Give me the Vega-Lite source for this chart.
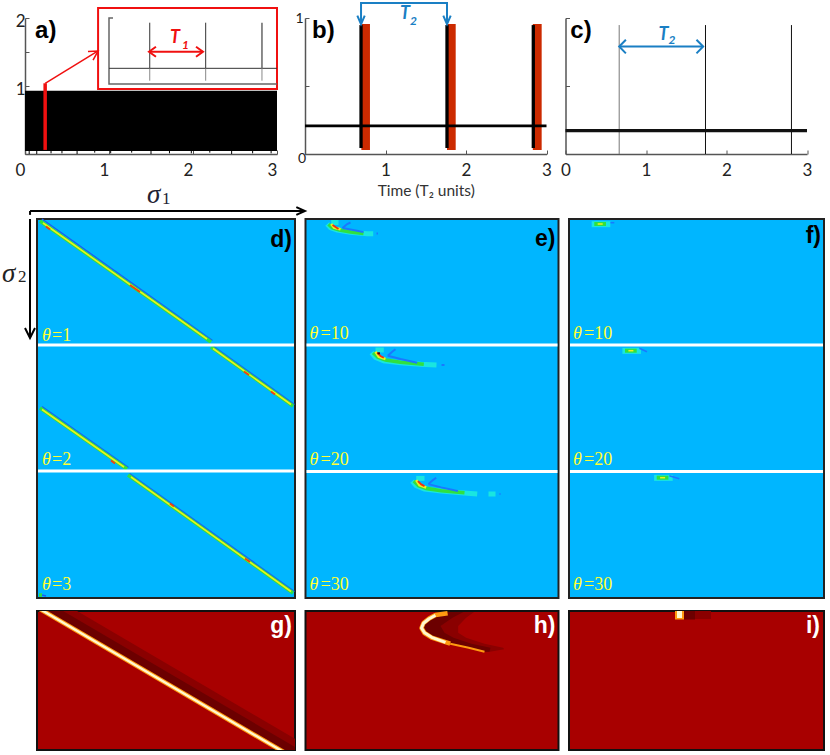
{
"$schema":"https://vega.github.io/schema/vega-lite/v6.json",
"background":"white",
"padding":{"left":2,"top":-1,"right":0,"bottom":0},
"config":{"view":{"stroke":null},"axis":{"grid":false,"labelFont":"Lato","labelFontSize":17,"labelColor":"#222","domainColor":"#555","tickColor":"#555","domainWidth":1.5,"tickWidth":1,"tickSize":-4,"title":null,"labelOverlap":false,"labelFlush":false}},
"spacing":-17,
"resolve":{"scale":{"color":"independent","strokeWidth":"independent"}},
"vconcat":[
{"bounds":"flush","spacing":28,"resolve":{"scale":{"color":"independent","strokeWidth":"independent"}},"hconcat":[
 {"width":252,"height":136,
  "encoding":{"x":{"field":"x","type":"quantitative","scale":{"domain":[0,3],"nice":false},"axis":{"values":[0,1,2,3],"format":"d","labelOffset":-5,"labelPadding":12}},
              "y":{"field":"y","type":"quantitative","scale":{"domain":[0,2],"nice":false},"axis":{"values":[0,0.5,1,1.5,2],"labelExpr":"datum.value>0 && datum.value%1==0 ? format(datum.value,'d') : ''","labelPadding":4,"labelOffset":3}}},
  "layer":[
   {"data":{"values":[{"x":0,"x2":3,"y":0.044,"y2":0.93}]},"mark":{"type":"rect","color":"#000"},"encoding":{"x2":{"field":"x2"},"y2":{"field":"y2"}}},
   {"data":{"values":[{"x":0.05,"y":0,"y2":0.05},{"x":0.14,"y":0,"y2":0.05},{"x":0.31,"y":0.01,"y2":0.05},{"x":0.44,"y":0.01,"y2":0.05},{"x":0.62,"y":0,"y2":0.05},{"x":0.83,"y":0.02,"y2":0.05},{"x":1.02,"y":0.01,"y2":0.05},{"x":1.27,"y":0.02,"y2":0.05},{"x":1.5,"y":0,"y2":0.05},{"x":1.72,"y":0.01,"y2":0.05},{"x":1.98,"y":0.01,"y2":0.05},{"x":2.2,"y":0.02,"y2":0.05},{"x":2.46,"y":0,"y2":0.05},{"x":2.71,"y":0.01,"y2":0.05},{"x":2.93,"y":0.01,"y2":0.05}]},"mark":{"type":"rule","color":"#000","strokeWidth":1},"encoding":{"y2":{"field":"y2"}}},
   {"data":{"values":[{"x":0.87,"x2":3,"y":0.956,"y2":2.147}]},"mark":{"type":"rect","fill":"white","stroke":"#f01010","strokeWidth":2},"encoding":{"x2":{"field":"x2"},"y2":{"field":"y2"}}},
   {"data":{"values":[
     {"s":"i1","k":"frame","p":0,"x":1.048,"y":2.0},{"s":"i1","k":"frame","p":1,"x":1.0,"y":2.0},{"s":"i1","k":"frame","p":2,"x":1.0,"y":1.029},{"s":"i1","k":"frame","p":3,"x":3.0,"y":1.029},
     {"s":"i2","k":"thin","p":0,"x":1.0,"y":1.26},{"s":"i2","k":"thin","p":1,"x":3.0,"y":1.26},
     {"s":"i3","k":"lo","p":0,"x":1.485,"y":1.26},{"s":"i3","k":"lo","p":1,"x":1.485,"y":1.078},
     {"s":"i4","k":"lo","p":0,"x":2.151,"y":1.26},{"s":"i4","k":"lo","p":1,"x":2.151,"y":1.078},
     {"s":"i5","k":"lo","p":0,"x":2.821,"y":1.26},{"s":"i5","k":"lo","p":1,"x":2.821,"y":1.078},
     {"s":"i6","k":"thin","p":0,"x":1.485,"y":1.931},{"s":"i6","k":"thin","p":1,"x":1.485,"y":1.26},
     {"s":"i7","k":"thin","p":0,"x":2.151,"y":1.931},{"s":"i7","k":"thin","p":1,"x":2.151,"y":1.26},
     {"s":"i8","k":"frame","p":0,"x":2.821,"y":1.931},{"s":"i8","k":"frame","p":1,"x":2.821,"y":1.26},
     {"s":"r1","k":"bar","p":0,"x":0.24,"y":1.04},{"s":"r1","k":"bar","p":1,"x":0.24,"y":0.06},
     {"s":"r2","k":"arrow","p":0,"x":0.24,"y":1.04},{"s":"r2","k":"arrow","p":1,"x":0.87,"y":1.515},
     {"s":"r3","k":"arrow","p":0,"x":0.75,"y":1.507},{"s":"r3","k":"arrow","p":1,"x":0.87,"y":1.515},{"s":"r3","k":"arrow","p":2,"x":0.81,"y":1.38},
     {"s":"t1","k":"span","p":0,"x":1.476,"y":1.504},{"s":"t1","k":"span","p":1,"x":2.119,"y":1.504},
     {"s":"t2","k":"span","p":0,"x":1.559,"y":1.578},{"s":"t2","k":"span","p":1,"x":1.476,"y":1.504},{"s":"t2","k":"span","p":2,"x":1.559,"y":1.43},
     {"s":"t3","k":"span","p":0,"x":2.036,"y":1.578},{"s":"t3","k":"span","p":1,"x":2.119,"y":1.504},{"s":"t3","k":"span","p":2,"x":2.036,"y":1.43},
     {"s":"x1","k":"axis","p":0,"x":0.06,"y":-0.838},{"s":"x1","k":"axis","p":1,"x":3.333,"y":-0.838},
     {"s":"x2","k":"axis","p":0,"x":3.23,"y":-0.78},{"s":"x2","k":"axis","p":1,"x":3.333,"y":-0.838},{"s":"x2","k":"axis","p":2,"x":3.23,"y":-0.895},
     {"s":"x3","k":"axis","p":0,"x":0.06,"y":-0.838},{"s":"x3","k":"axis","p":1,"x":0.06,"y":-0.895}
    ]},
    "mark":{"type":"line","strokeCap":"butt"},
    "encoding":{"detail":{"field":"s"},"order":{"field":"p"},
     "color":{"field":"k","legend":null,"scale":{"domain":["frame","thin","lo","bar","arrow","span","axis"],"range":["#666","#333","#888","#f01010","#f01010","#f01010","#000"]}},
     "strokeWidth":{"field":"k","legend":null,"scale":{"type":"ordinal","domain":["frame","thin","lo","bar","arrow","span","axis"],"range":[1.5,1,1,3.5,1.5,2,2]}}}},
   {"data":{"values":[{"x":0.12,"y":1.706,"t":"a)"}]},"mark":{"type":"text","font":"Liberation Sans","fontWeight":"bold","fontSize":24,"align":"left","baseline":"alphabetic"},"encoding":{"text":{"field":"t"}}},
   {"data":{"values":[{"x":1.726,"y":1.632,"t":"T"}]},"mark":{"type":"text","font":"Lato","fontWeight":"bold","fontStyle":"italic","fontSize":18,"color":"#f01010","align":"left","baseline":"alphabetic"},"encoding":{"text":{"field":"t"}}},
   {"data":{"values":[{"x":1.87,"y":1.544,"t":"1"}]},"mark":{"type":"text","font":"Lato","fontWeight":"bold","fontStyle":"italic","fontSize":12,"color":"#f01010","align":"left","baseline":"alphabetic"},"encoding":{"text":{"field":"t"}}},
   {"data":{"values":[{"x":1.452,"y":-0.72,"t":"σ"}]},"mark":{"type":"text","font":"Liberation Serif","fontStyle":"italic","fontSize":27,"color":"#223","align":"left","baseline":"alphabetic"},"encoding":{"text":{"field":"t"}}},
   {"data":{"values":[{"x":1.631,"y":-0.735,"t":"1"}]},"mark":{"type":"text","font":"Liberation Serif","fontSize":17,"color":"#223","align":"left","baseline":"alphabetic"},"encoding":{"text":{"field":"t"}}}
  ]},
 {"bounds":"flush","spacing":18.5,"resolve":{"scale":{"color":"independent","strokeWidth":"independent"}},"hconcat":[
  {"width":241.5,"height":136,
   "encoding":{"x":{"field":"x","type":"quantitative","scale":{"domain":[0,3],"nice":false},"axis":{"values":[0,1,2,3],"labelExpr":"datum.value>0 ? format(datum.value,'d') : ''","labelPadding":12,"title":"Time (T₂ units)","titleFont":"Lato","titleFontSize":15.5,"titleFontWeight":"normal","titleColor":"#333","titlePadding":5}},
               "y":{"field":"y","type":"quantitative","scale":{"domain":[0,1],"nice":false},"axis":{"values":[0,0.5,1],"labelExpr":"datum.value==1 ? '1' : ''","labelFontSize":14,"labelPadding":6}}},
   "layer":[
    {"data":{"values":[{"x":0.70,"x2":0.807,"y":0.03,"y2":0.955},{"x":1.764,"x2":1.872,"y":0.03,"y2":0.955},{"x":2.83,"x2":2.94,"y":0.03,"y2":0.955}]},"mark":{"type":"rect","color":"#cc2a00"},"encoding":{"x2":{"field":"x2"},"y2":{"field":"y2"}}},
    {"data":{"values":[{"x":0.696,"y":0.044,"y2":0.948},{"x":1.764,"y":0.044,"y2":0.948},{"x":2.836,"y":0.044,"y2":0.948}]},"mark":{"type":"rule","color":"#000","strokeWidth":3.3},"encoding":{"y2":{"field":"y2"}}},
    {"data":{"values":[{"s":"b","p":0,"x":0,"y":0.207},{"s":"b","p":1,"x":3,"y":0.207}]},"mark":{"type":"line","color":"#000","strokeWidth":2.6},"encoding":{"detail":{"field":"s"},"order":{"field":"p"}}},
    {"data":{"values":[
      {"s":"t","p":0,"x":0.696,"y":0.955},{"s":"t","p":1,"x":0.696,"y":1.11},{"s":"t","p":2,"x":1.764,"y":1.11},{"s":"t","p":3,"x":1.764,"y":0.955},
      {"s":"h1","p":0,"x":0.65,"y":1.018},{"s":"h1","p":1,"x":0.696,"y":0.955},{"s":"h1","p":2,"x":0.742,"y":1.018},
      {"s":"h2","p":0,"x":1.718,"y":1.018},{"s":"h2","p":1,"x":1.764,"y":0.955},{"s":"h2","p":2,"x":1.81,"y":1.018}
     ]},"mark":{"type":"line","color":"#1a7fc4","strokeWidth":2},"encoding":{"detail":{"field":"s"},"order":{"field":"p"}}},
    {"data":{"values":[{"x":1.18,"y":0.99,"t":"T"}]},"mark":{"type":"text","font":"Lato","fontWeight":"bold","fontStyle":"italic","fontSize":18,"color":"#1a7fc4","align":"left","baseline":"alphabetic"},"encoding":{"text":{"field":"t"}}},
    {"data":{"values":[{"x":1.304,"y":0.95,"t":"2"}]},"mark":{"type":"text","font":"Lato","fontWeight":"bold","fontStyle":"italic","fontSize":12,"color":"#1a7fc4","align":"left","baseline":"alphabetic"},"encoding":{"text":{"field":"t"}}},
    {"data":{"values":[{"x":-0.037,"y":-0.066,"t":"0"}]},"mark":{"type":"text","font":"Lato","fontSize":14,"color":"#222","align":"center","baseline":"alphabetic"},"encoding":{"text":{"field":"t"}}},
    {"data":{"values":[{"x":0.087,"y":0.853,"t":"b)"}]},"mark":{"type":"text","font":"Liberation Sans","fontWeight":"bold","fontSize":24,"align":"left","baseline":"alphabetic"},"encoding":{"text":{"field":"t"}}}
   ]},
  {"width":241.5,"height":136,
   "encoding":{"x":{"field":"x","type":"quantitative","scale":{"domain":[0,3],"nice":false},"axis":{"values":[0,1,2,3],"format":"d","labelPadding":12}},
               "y":{"field":"y","type":"quantitative","scale":{"domain":[0,1],"nice":false},"axis":{"values":[0,0.5,1],"labelExpr":"''"}}},
   "layer":[
    {"data":{"values":[{"x":0.667,"y":0,"y2":0.948,"k":"gray"},{"x":1.739,"y":0,"y2":0.948,"k":"black"},{"x":2.807,"y":0,"y2":0.948,"k":"black"}]},"mark":{"type":"rule","strokeWidth":1},"encoding":{"y2":{"field":"y2"},"color":{"field":"k","legend":null,"scale":{"domain":["gray","black"],"range":["#777","#111"]}}}},
    {"data":{"values":[{"s":"b","p":0,"x":0,"y":0.172},{"s":"b","p":1,"x":3,"y":0.172}]},"mark":{"type":"line","color":"#111","strokeWidth":3.4},"encoding":{"detail":{"field":"s"},"order":{"field":"p"}}},
    {"data":{"values":[
      {"s":"t","p":0,"x":0.667,"y":0.79},{"s":"t","p":1,"x":1.71,"y":0.79},
      {"s":"h1","p":0,"x":0.75,"y":0.84},{"s":"h1","p":1,"x":0.667,"y":0.79},{"s":"h1","p":2,"x":0.75,"y":0.74},
      {"s":"h2","p":0,"x":1.627,"y":0.84},{"s":"h2","p":1,"x":1.71,"y":0.79},{"s":"h2","p":2,"x":1.627,"y":0.74}
     ]},"mark":{"type":"line","color":"#1a7fc4","strokeWidth":2},"encoding":{"detail":{"field":"s"},"order":{"field":"p"}}},
    {"data":{"values":[{"x":1.155,"y":0.84,"t":"T"}]},"mark":{"type":"text","font":"Lato","fontWeight":"bold","fontStyle":"italic","fontSize":18,"color":"#1a7fc4","align":"left","baseline":"alphabetic"},"encoding":{"text":{"field":"t"}}},
    {"data":{"values":[{"x":1.28,"y":0.808,"t":"2"}]},"mark":{"type":"text","font":"Lato","fontWeight":"bold","fontStyle":"italic","fontSize":12,"color":"#1a7fc4","align":"left","baseline":"alphabetic"},"encoding":{"text":{"field":"t"}}},
    {"data":{"values":[{"x":0.06,"y":0.853,"t":"c)"}]},"mark":{"type":"text","font":"Liberation Sans","fontWeight":"bold","fontSize":24,"align":"left","baseline":"alphabetic"},"encoding":{"text":{"field":"t"}}}
   ]}
 ]}
]},
{"bounds":"flush","spacing":0,"resolve":{"scale":{"color":"independent","strokeWidth":"independent"}},"hconcat":[
 {"width":12,"height":379,
  "encoding":{"x":{"field":"x","type":"quantitative","scale":{"domain":[0,12],"nice":false},"axis":null},"y":{"field":"y","type":"quantitative","scale":{"domain":[379,0],"nice":false},"axis":null}},
  "layer":[
   {"data":{"values":[{"s":"a","p":0,"x":5,"y":0},{"s":"a","p":1,"x":5,"y":119},{"s":"h","p":0,"x":0,"y":109},{"s":"h","p":1,"x":5,"y":119},{"s":"h","p":2,"x":10,"y":109}]},"mark":{"type":"line","color":"#000","strokeWidth":2},"encoding":{"detail":{"field":"s"},"order":{"field":"p"}}},
   {"data":{"values":[{"x":-23,"y":63,"t":"σ"}]},"mark":{"type":"text","font":"Liberation Serif","fontStyle":"italic","fontSize":27,"color":"#222","align":"left","baseline":"alphabetic"},"encoding":{"text":{"field":"t"}}},
   {"data":{"values":[{"x":-7,"y":63,"t":"2"}]},"mark":{"type":"text","font":"Liberation Serif","fontSize":17,"color":"#222","align":"left","baseline":"alphabetic"},"encoding":{"text":{"field":"t"}}}
  ]},
 {"bounds":"flush","spacing":10.5,"resolve":{"scale":{"color":"independent","strokeWidth":"independent"}},"hconcat":[
  {"width":258,"height":379,"view":{"fill":"#00b6ff","stroke":"#222","strokeWidth":2},
   "encoding":{"x":{"field":"i","type":"quantitative","scale":{"domain":[0,258],"nice":false},"axis":null},"y":{"field":"j","type":"quantitative","scale":{"domain":[379,0],"nice":false},"axis":null}},
   "layer":[
    {"data":{"values":[
     {"s":"b1","lv":1,"i":5,"j":0},{"s":"b1","lv":1,"i":175.5,"j":121.5},{"s":"b2","lv":1,"i":175.5,"j":126.5},{"s":"b2","lv":1,"i":257.5,"j":185.5},{"s":"b3","lv":1,"i":5,"j":187.5},{"s":"b3","lv":1,"i":91.5,"j":248.5},{"s":"b4","lv":1,"i":92.5,"j":254.5},{"s":"b4","lv":1,"i":257.5,"j":372.5},
     {"s":"g1","lv":3,"i":3,"j":2},{"s":"g1","lv":3,"i":174,"j":123},{"s":"g2","lv":3,"i":174,"j":128},{"s":"g2","lv":3,"i":256,"j":187},{"s":"g3","lv":3,"i":3,"j":189},{"s":"g3","lv":3,"i":90,"j":250},{"s":"g4","lv":3,"i":91,"j":256},{"s":"g4","lv":3,"i":256,"j":374},
     {"s":"g5","lv":3,"i":2,"j":376},{"s":"g5","lv":3,"i":5,"j":376},{"s":"b5","lv":1,"i":5,"j":376},{"s":"b5","lv":1,"i":9,"j":377},
     {"s":"y1","lv":4,"i":6,"j":4},{"s":"y1","lv":4,"i":170,"j":120},{"s":"y2","lv":4,"i":176,"j":129.5},{"s":"y2","lv":4,"i":254,"j":185.5},{"s":"y3","lv":4,"i":5,"j":190.5},{"s":"y3","lv":4,"i":87,"j":248},{"s":"y4","lv":4,"i":94,"j":258},{"s":"y4","lv":4,"i":254,"j":372.5},
     {"s":"r1","lv":5,"i":93,"j":66},{"s":"r1","lv":5,"i":103,"j":73},{"s":"r2","lv":5,"i":208,"j":339.5},{"s":"r2","lv":5,"i":213,"j":343},{"s":"r3","lv":5,"i":207,"j":152.5},{"s":"r3","lv":5,"i":212,"j":156},{"s":"r4","lv":5,"i":74,"j":241.5},{"s":"r4","lv":5,"i":78,"j":244.5},{"s":"r5","lv":5,"i":9,"j":7.5},{"s":"r5","lv":5,"i":13,"j":10.5},{"s":"r6","lv":5,"i":234,"j":172.5},{"s":"r6","lv":5,"i":238,"j":175.5},{"s":"r7","lv":5,"i":133,"j":284.5},{"s":"r7","lv":5,"i":137,"j":287.5}
    ]},"mark":{"type":"line","strokeCap":"butt"},"encoding":{"detail":{"field":"s"},
      "color":{"field":"lv","type":"ordinal","legend":null,"scale":{"domain":[1,3,4,5],"range":["#1a60f0","#30e040","#eeee20","#f04010"]}},
      "strokeWidth":{"field":"lv","type":"ordinal","legend":null,"scale":{"type":"ordinal","domain":[1,3,4,5],"range":[1.4,3.5,1.6,1.8]}}}},
    {"data":{"values":[{"j":126},{"j":252}]},"mark":{"type":"rule","color":"white","strokeWidth":3},"encoding":{"x":{"value":1},"x2":{"value":257}}},
    {"data":{"values":[{"i":5,"j":122,"t":"θ"},{"i":5,"j":246,"t":"θ"},{"i":5,"j":371,"t":"θ"}]},"mark":{"type":"text","font":"Liberation Serif","fontStyle":"italic","fontSize":18,"color":"#ffff33","align":"left","baseline":"alphabetic"},"encoding":{"text":{"field":"t"}}},
    {"data":{"values":[{"i":15,"j":122,"t":"=1"},{"i":15,"j":246,"t":"=2"},{"i":15,"j":371,"t":"=3"}]},"mark":{"type":"text","font":"Liberation Serif","fontSize":18,"color":"#ffff33","align":"left","baseline":"alphabetic"},"encoding":{"text":{"field":"t"}}},
    {"data":{"values":[{"i":255,"j":28,"t":"d)"}]},"mark":{"type":"text","font":"Liberation Sans","fontWeight":"bold","fontSize":23,"color":"#000","align":"right","baseline":"alphabetic"},"encoding":{"text":{"field":"t"}}}
   ]},
  {"width":253,"height":379,"view":{"fill":"#00b6ff","stroke":"#222","strokeWidth":2},
   "encoding":{"x":{"field":"i","type":"quantitative","scale":{"domain":[0,253],"nice":false},"axis":null},"y":{"field":"j","type":"quantitative","scale":{"domain":[379,0],"nice":false},"axis":null}},
   "layer":[
    {"data":{"values":[
     {"s":"e1c","lv":2,"i":21.7,"j":5},{"s":"e1c","lv":2,"i":25,"j":8.7},{"s":"e1c","lv":2,"i":31.7,"j":11},{"s":"e1c","lv":2,"i":45,"j":13.3},{"s":"e1c","lv":2,"i":61.7,"j":14.7},{"s":"e1c","lv":2,"i":67.7,"j":14.7},
     {"s":"e1u","lv":2,"i":25.7,"j":3.5},{"s":"e1u","lv":2,"i":33,"j":3.5},
     {"s":"e1g","lv":3,"i":23,"j":5.3},{"s":"e1g","lv":3,"i":27,"j":9},{"s":"e1g","lv":3,"i":34,"j":11},{"s":"e1g","lv":3,"i":45,"j":13},{"s":"e1g","lv":3,"i":58,"j":14.5},
     {"s":"e1y","lv":4,"i":25.7,"j":5},{"s":"e1y","lv":4,"i":28.5,"j":8.5},{"s":"e1y","lv":4,"i":35,"j":10.3},
     {"s":"e1r","lv":5,"i":27,"j":6},{"s":"e1r","lv":5,"i":30,"j":8},{"s":"e1r","lv":5,"i":33,"j":10},
     {"s":"e1b1","lv":1,"i":37,"j":9},{"s":"e1b1","lv":1,"i":41.7,"j":5},{"s":"e1b1","lv":1,"i":45,"j":3.5},
     {"s":"e1b2","lv":1,"i":37,"j":9},{"s":"e1b2","lv":1,"i":45,"j":10.5},{"s":"e1b2","lv":1,"i":58,"j":13},
     {"s":"e1x","lv":1,"i":71,"j":14.5},{"s":"e1x","lv":1,"i":72.5,"j":14.5},
     {"s":"e2c","lv":2,"i":66,"j":133.7},{"s":"e2c","lv":2,"i":70,"j":138.3},{"s":"e2c","lv":2,"i":78.3,"j":141.7},{"s":"e2c","lv":2,"i":95,"j":143.7},{"s":"e2c","lv":2,"i":115,"j":145.3},{"s":"e2c","lv":2,"i":131,"j":146},
     {"s":"e2u","lv":2,"i":70,"j":131},{"s":"e2u","lv":2,"i":78.3,"j":131},
     {"s":"e2g","lv":3,"i":67.7,"j":133.7},{"s":"e2g","lv":3,"i":72.3,"j":138.3},{"s":"e2g","lv":3,"i":80,"j":141},{"s":"e2g","lv":3,"i":95,"j":143.3},{"s":"e2g","lv":3,"i":118.3,"j":145.3},
     {"s":"e2y","lv":4,"i":70,"j":132.7},{"s":"e2y","lv":4,"i":73.3,"j":137.7},{"s":"e2y","lv":4,"i":80,"j":140},
     {"s":"e2r","lv":5,"i":71.7,"j":133.7},{"s":"e2r","lv":5,"i":75,"j":137},{"s":"e2r","lv":5,"i":78.3,"j":138.7},
     {"s":"e2k","lv":6,"i":72,"j":134.3},{"s":"e2k","lv":6,"i":74.5,"j":134.3},
     {"s":"e2b1","lv":1,"i":82.3,"j":136.7},{"s":"e2b1","lv":1,"i":86.7,"j":132.7},{"s":"e2b1","lv":1,"i":90,"j":130.3},
     {"s":"e2b2","lv":1,"i":82.3,"j":136.7},{"s":"e2b2","lv":1,"i":95,"j":140},{"s":"e2b2","lv":1,"i":111.7,"j":143.7},
     {"s":"e2x","lv":1,"i":136,"j":146},{"s":"e2x","lv":1,"i":139,"j":146},
     {"s":"e3c","lv":2,"i":106.7,"j":262.1},{"s":"e3c","lv":2,"i":110.7,"j":266.7},{"s":"e3c","lv":2,"i":119,"j":270.1},{"s":"e3c","lv":2,"i":135.7,"j":272.1},{"s":"e3c","lv":2,"i":155.7,"j":273.7},{"s":"e3c","lv":2,"i":171.7,"j":275},
     {"s":"e3u","lv":2,"i":110.7,"j":259.4},{"s":"e3u","lv":2,"i":119,"j":259.4},
     {"s":"e3g","lv":3,"i":108.4,"j":262.1},{"s":"e3g","lv":3,"i":113,"j":266.7},{"s":"e3g","lv":3,"i":120.7,"j":269.4},{"s":"e3g","lv":3,"i":135.7,"j":271.7},{"s":"e3g","lv":3,"i":159,"j":273.7},
     {"s":"e3y","lv":4,"i":110.7,"j":261.1},{"s":"e3y","lv":4,"i":114,"j":266.1},{"s":"e3y","lv":4,"i":120.7,"j":268.4},
     {"s":"e3r","lv":5,"i":112.4,"j":262.1},{"s":"e3r","lv":5,"i":115.7,"j":265.4},{"s":"e3r","lv":5,"i":119,"j":267.1},
     {"s":"e3b1","lv":1,"i":123,"j":265.1},{"s":"e3b1","lv":1,"i":127.4,"j":261.1},{"s":"e3b1","lv":1,"i":130.7,"j":258.7},
     {"s":"e3b2","lv":1,"i":123,"j":265.1},{"s":"e3b2","lv":1,"i":135.7,"j":268.4},{"s":"e3b2","lv":1,"i":152.4,"j":272.1},
     {"s":"e3z","lv":2,"i":183,"j":275},{"s":"e3z","lv":2,"i":190,"j":275},
     {"s":"e3x","lv":1,"i":194,"j":275},{"s":"e3x","lv":1,"i":195,"j":275}
    ]},"mark":{"type":"line","strokeCap":"butt"},"encoding":{"detail":{"field":"s"},
      "color":{"field":"lv","type":"ordinal","legend":null,"scale":{"domain":[1,2,3,4,5,6],"range":["#1a78ff","#19e6e0","#30e040","#f0f020","#f03010","#500000"]}},
      "strokeWidth":{"field":"lv","type":"ordinal","legend":null,"scale":{"type":"ordinal","domain":[1,2,3,4,5,6],"range":[2,5,3.6,2.6,1.8,2]}}}},
    {"data":{"values":[{"j":126},{"j":252.5}]},"mark":{"type":"rule","color":"white","strokeWidth":3},"encoding":{"x":{"value":1},"x2":{"value":252}}},
    {"data":{"values":[{"i":4,"j":120,"t":"θ"},{"i":4,"j":246,"t":"θ"},{"i":4,"j":371,"t":"θ"}]},"mark":{"type":"text","font":"Liberation Serif","fontStyle":"italic","fontSize":18,"color":"#ffff33","align":"left","baseline":"alphabetic"},"encoding":{"text":{"field":"t"}}},
    {"data":{"values":[{"i":15,"j":120,"t":"=10"},{"i":15,"j":246,"t":"=20"},{"i":15,"j":371,"t":"=30"}]},"mark":{"type":"text","font":"Liberation Serif","fontSize":18,"color":"#ffff33","align":"left","baseline":"alphabetic"},"encoding":{"text":{"field":"t"}}},
    {"data":{"values":[{"i":250,"j":27,"t":"e)"}]},"mark":{"type":"text","font":"Liberation Sans","fontWeight":"bold","fontSize":23,"color":"#000","align":"right","baseline":"alphabetic"},"encoding":{"text":{"field":"t"}}}
   ]},
  {"width":255,"height":379,"view":{"fill":"#00b6ff","stroke":"#222","strokeWidth":2},
   "encoding":{"x":{"field":"i","type":"quantitative","scale":{"domain":[0,255],"nice":false},"axis":null},"y":{"field":"j","type":"quantitative","scale":{"domain":[379,0],"nice":false},"axis":null}},
   "layer":[
    {"data":{"values":[
     {"s":"f1c","lv":2,"i":22.7,"j":5.2},{"s":"f1c","lv":2,"i":41.3,"j":5.2},{"s":"f1g","lv":3,"i":25.3,"j":5},{"s":"f1g","lv":3,"i":37,"j":5},{"s":"f1y","lv":4,"i":28.7,"j":5},{"s":"f1y","lv":4,"i":33.7,"j":5},{"s":"f1b","lv":1,"i":41.5,"j":3.7},{"s":"f1b","lv":1,"i":45.3,"j":3.7},
     {"s":"f2c","lv":2,"i":53.4,"j":131.9},{"s":"f2c","lv":2,"i":72,"j":131.9},{"s":"f2g","lv":3,"i":56,"j":131.7},{"s":"f2g","lv":3,"i":67.7,"j":131.7},{"s":"f2y","lv":4,"i":59.4,"j":131.7},{"s":"f2y","lv":4,"i":64.4,"j":131.7},{"s":"f2b","lv":1,"i":70.3,"j":129.3},{"s":"f2b","lv":1,"i":78,"j":132.7},
     {"s":"f3c","lv":2,"i":85.1,"j":258.9},{"s":"f3c","lv":2,"i":103.7,"j":258.9},{"s":"f3g","lv":3,"i":87.7,"j":258.7},{"s":"f3g","lv":3,"i":99.4,"j":258.7},{"s":"f3y","lv":4,"i":91.1,"j":258.7},{"s":"f3y","lv":4,"i":96.1,"j":258.7},{"s":"f3b","lv":1,"i":100.3,"j":256.7},{"s":"f3b","lv":1,"i":110.3,"j":259.7}
    ]},"mark":{"type":"line","strokeCap":"butt"},"encoding":{"detail":{"field":"s"},
      "color":{"field":"lv","type":"ordinal","legend":null,"scale":{"domain":[1,2,3,4],"range":["#1a78ff","#19e6e0","#30e040","#f0f020"]}},
      "strokeWidth":{"field":"lv","type":"ordinal","legend":null,"scale":{"type":"ordinal","domain":[1,2,3,4],"range":[1.5,6,4,1.5]}}}},
    {"data":{"values":[{"j":126},{"j":252.5}]},"mark":{"type":"rule","color":"white","strokeWidth":3},"encoding":{"x":{"value":1},"x2":{"value":254}}},
    {"data":{"values":[{"i":4,"j":120,"t":"θ"},{"i":4,"j":246,"t":"θ"},{"i":4,"j":371,"t":"θ"}]},"mark":{"type":"text","font":"Liberation Serif","fontStyle":"italic","fontSize":18,"color":"#ffff33","align":"left","baseline":"alphabetic"},"encoding":{"text":{"field":"t"}}},
    {"data":{"values":[{"i":15,"j":120,"t":"=10"},{"i":15,"j":246,"t":"=20"},{"i":15,"j":371,"t":"=30"}]},"mark":{"type":"text","font":"Liberation Serif","fontSize":18,"color":"#ffff33","align":"left","baseline":"alphabetic"},"encoding":{"text":{"field":"t"}}},
    {"data":{"values":[{"i":252,"j":24,"t":"f)"}]},"mark":{"type":"text","font":"Liberation Sans","fontWeight":"bold","fontSize":23,"color":"#000","align":"right","baseline":"alphabetic"},"encoding":{"text":{"field":"t"}}}
   ]}
 ]}
]},
{"bounds":"flush","spacing":0,"resolve":{"scale":{"color":"independent","strokeWidth":"independent"}},"hconcat":[
 {"width":12,"height":139,"data":{"values":[{"x":0}]},"mark":{"type":"point","opacity":0},"encoding":{}},
 {"bounds":"flush","spacing":10.5,"resolve":{"scale":{"color":"independent","strokeWidth":"independent"}},"hconcat":[
  {"width":258,"height":139,"view":{"fill":"#a80000","stroke":"#111","strokeWidth":2},
   "encoding":{"x":{"field":"i","type":"quantitative","scale":{"domain":[0,258],"nice":false},"axis":null},"y":{"field":"j","type":"quantitative","scale":{"domain":[139,0],"nice":false},"axis":null}},
   "layer":[
    {"data":{"values":[{"i":100,"j":-23}]},"mark":{"type":"point","opacity":0,"size":1}},
    {"data":{"values":[
     {"s":"o","lv":"outer","i":6.2,"j":-10},{"s":"o","lv":"outer","i":279,"j":150},
     {"s":"d","lv":"deep","i":-0.8,"j":-10},{"s":"d","lv":"deep","i":272,"j":150},
     {"s":"e","lv":"edge","i":-10.8,"j":-10},{"s":"e","lv":"edge","i":262,"j":150},
     {"s":"c","lv":"core","i":-10.8,"j":-10},{"s":"c","lv":"core","i":262,"j":150}
    ]},"mark":{"type":"line","clip":true,"strokeCap":"butt"},"encoding":{"detail":{"field":"s"},
      "color":{"field":"lv","legend":null,"scale":{"domain":["outer","deep","edge","core"],"range":["#8a0000","#6c0000","#ff9a10","#fff8d0"]}},
      "strokeWidth":{"field":"lv","legend":null,"scale":{"type":"ordinal","domain":["outer","deep","edge","core"],"range":[17,10,4.5,2.4]}}}},
    {"data":{"values":[{"i":255,"j":22,"t":"g)"}]},"mark":{"type":"text","font":"Liberation Sans","fontWeight":"bold","fontSize":23,"color":"#fff","align":"right","baseline":"alphabetic"},"encoding":{"text":{"field":"t"}}}
   ]},
  {"width":253,"height":139,"view":{"fill":"#a80000","stroke":"#111","strokeWidth":2},
   "encoding":{"x":{"field":"i","type":"quantitative","scale":{"domain":[0,253],"nice":false},"axis":null},"y":{"field":"j","type":"quantitative","scale":{"domain":[139,0],"nice":false},"axis":null}},
   "layer":[
    {"data":{"values":[
     {"j":1,"i":142,"i2":168.6},{"j":6.7,"i":123.6,"i2":160.6},{"j":15,"i":115.6,"i2":152.7},{"j":21.7,"i":119.3,"i2":152.7},{"j":26.7,"i":126.2,"i2":160.6},{"j":32.7,"i":144.7,"i2":179},{"j":36.7,"i":163.2,"i2":197.6},{"j":38.3,"i":173.8,"i2":198.7},{"j":40.7,"i":179,"i2":184.4}
    ]},"mark":{"type":"area","orient":"horizontal","color":"#8a0000"},"encoding":{"x2":{"field":"i2"}}},
    {"data":{"values":[
     {"j":1,"i":142,"i2":158},{"j":6.7,"i":123.6,"i2":147},{"j":15,"i":115.6,"i2":135},{"j":21.7,"i":119.3,"i2":139},{"j":26.7,"i":126.2,"i2":148},{"j":32.7,"i":144.7,"i2":166},{"j":36.7,"i":163.2,"i2":185},{"j":40.7,"i":179,"i2":184}
    ]},"mark":{"type":"area","orient":"horizontal","color":"#6c0000"},"encoding":{"x2":{"field":"i2"}}},
    {"data":{"values":[
     {"s":"o","lv":"edge","p":0,"i":142.1,"j":2.3},{"s":"o","lv":"edge","p":1,"i":130,"j":4},{"s":"o","lv":"edge","p":2,"i":123.6,"j":7.5},{"s":"o","lv":"edge","p":3,"i":118,"j":12},{"s":"o","lv":"edge","p":4,"i":116,"j":17},{"s":"o","lv":"edge","p":5,"i":119,"j":22},{"s":"o","lv":"edge","p":6,"i":126.2,"j":26.7},{"s":"o","lv":"edge","p":7,"i":144.7,"j":32.7},
     {"s":"t","lv":"tail","p":0,"i":144.7,"j":32.7},{"s":"t","lv":"tail","p":1,"i":163.2,"j":36.7},{"s":"t","lv":"tail","p":2,"i":179,"j":40.7},
     {"s":"c","lv":"core","p":0,"i":130,"j":4.3},{"s":"c","lv":"core","p":1,"i":123.6,"j":7.8},{"s":"c","lv":"core","p":2,"i":118,"j":12.2},{"s":"c","lv":"core","p":3,"i":116,"j":17},{"s":"c","lv":"core","p":4,"i":119,"j":21.7},{"s":"c","lv":"core","p":5,"i":126.2,"j":26.3},{"s":"c","lv":"core","p":6,"i":140,"j":31.3}
    ]},"mark":{"type":"line","strokeCap":"butt","strokeJoin":"round"},"encoding":{"detail":{"field":"s"},"order":{"field":"p"},
      "color":{"field":"lv","legend":null,"scale":{"domain":["edge","tail","core"],"range":["#ff9a10","#ff9a10","#fff8d0"]}},
      "strokeWidth":{"field":"lv","legend":null,"scale":{"type":"ordinal","domain":["edge","tail","core"],"range":[4.5,2,3]}}}},
    {"data":{"values":[{"i":250,"j":22,"t":"h)"}]},"mark":{"type":"text","font":"Liberation Sans","fontWeight":"bold","fontSize":23,"color":"#fff","align":"right","baseline":"alphabetic"},"encoding":{"text":{"field":"t"}}}
   ]},
  {"width":255,"height":139,"view":{"fill":"#a80000","stroke":"#111","strokeWidth":2},
   "encoding":{"x":{"field":"i","type":"quantitative","scale":{"domain":[0,255],"nice":false},"axis":null},"y":{"field":"j","type":"quantitative","scale":{"domain":[139,0],"nice":false},"axis":null}},
   "layer":[
    {"data":{"values":[
     {"lv":"outer","i":115,"i2":142,"j":0,"j2":8},{"lv":"deep","i":115,"i2":126,"j":0,"j2":8.5},{"lv":"edge","i":106,"i2":115,"j":0,"j2":8.5},{"lv":"core","i":108,"i2":113,"j":0,"j2":7}
    ]},"mark":{"type":"rect"},"encoding":{"x2":{"field":"i2"},"y2":{"field":"j2"},
      "color":{"field":"lv","legend":null,"scale":{"domain":["outer","deep","edge","core"],"range":["#8a0000","#6c0000","#ff9a10","#fff8d0"]}}}},
    {"data":{"values":[{"i":251,"j":22,"t":"i)"}]},"mark":{"type":"text","font":"Liberation Sans","fontWeight":"bold","fontSize":23,"color":"#fff","align":"right","baseline":"alphabetic"},"encoding":{"text":{"field":"t"}}}
   ]}
 ]}
]}
]
}
